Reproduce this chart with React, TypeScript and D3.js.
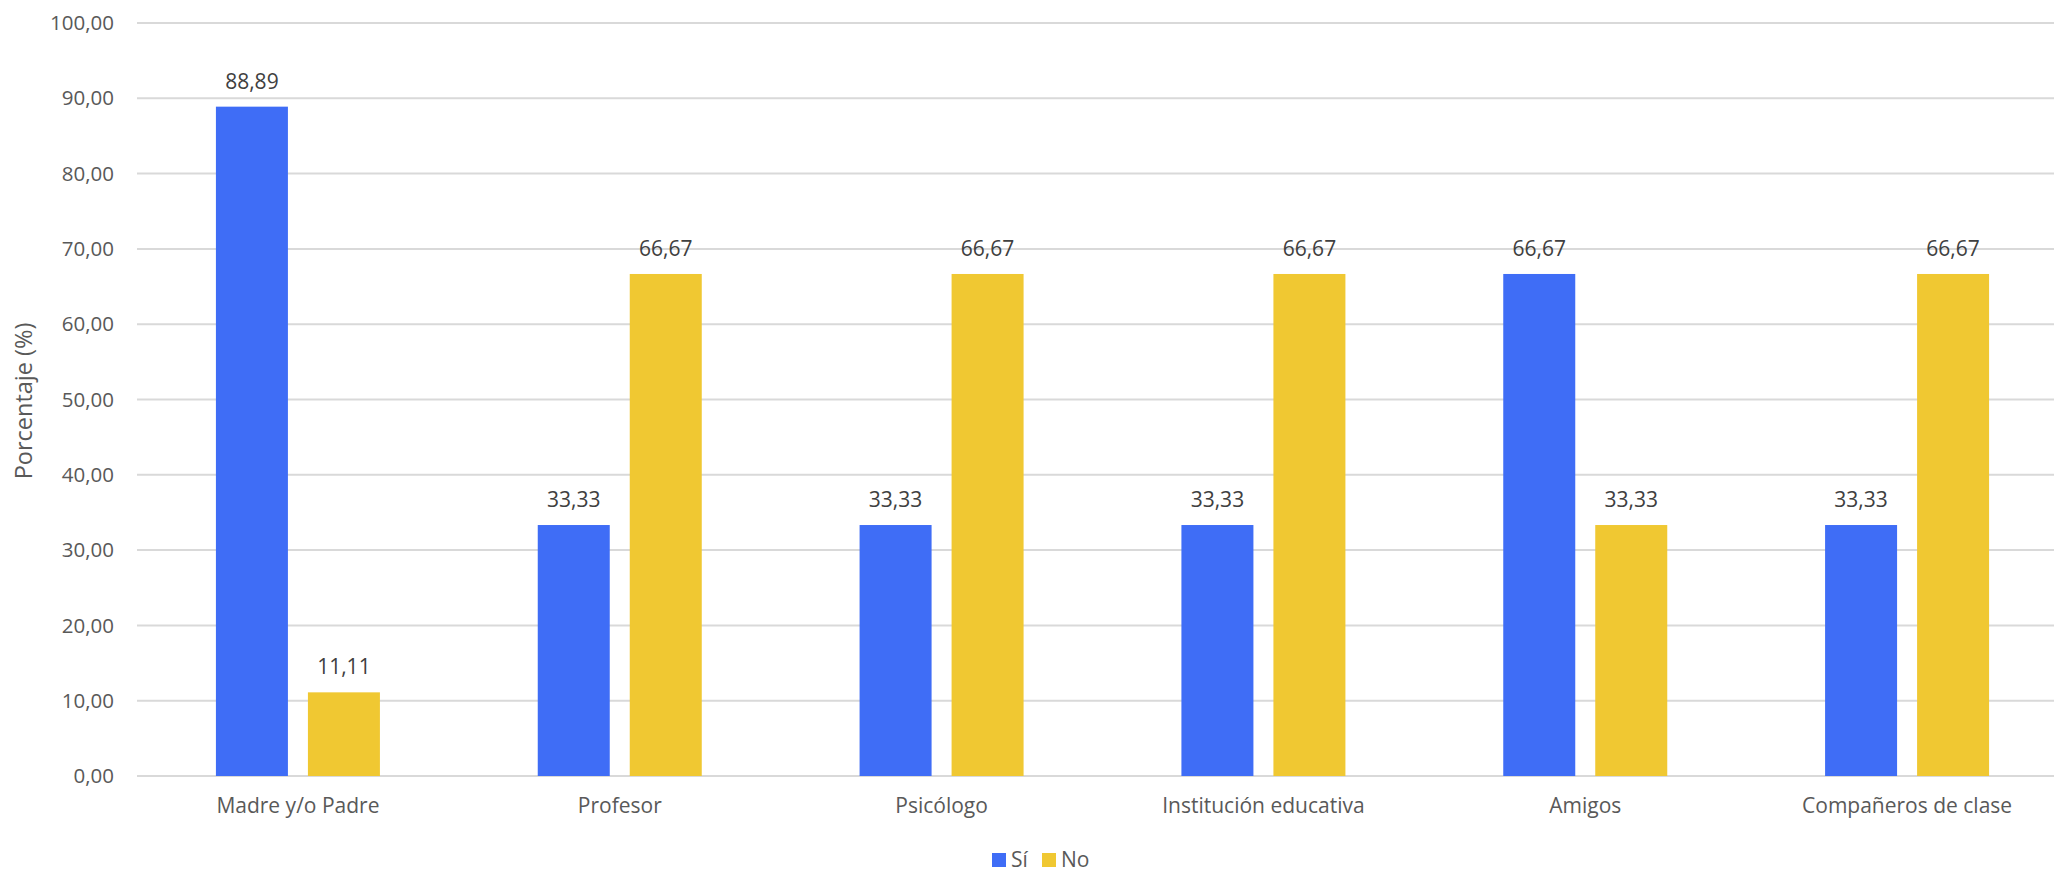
import React from "react";
import * as d3 from "d3";

const categories = ["Madre y/o Padre", "Profesor", "Psicólogo", "Institución educativa", "Amigos", "Compañeros de clase"];
const siValues = [88.89, 33.33, 33.33, 33.33, 66.67, 33.33];
const noValues = [11.11, 66.67, 66.67, 66.67, 33.33, 66.67];
const seriesNames = ["Sí", "No"];
const yTicks = [0, 10, 20, 30, 40, 50, 60, 70, 80, 90, 100];

const W = 2054;
const H = 872;
const FONT = "'Open Sans', 'Noto Sans', sans-serif";
const BLUE = "#3F6DF6";
const YELLOW = "#F0C832";

const fmt = (v: number) => v.toFixed(2).replace(".", ",");

export default function App() {
  const x = d3.scaleBand<string>().domain(categories).range([137, 2068]).paddingInner(0).paddingOuter(0);
  const y = d3.scaleLinear().domain([0, 100]).range([776, 23]);
  const barW = 72;
  const gap = 20;
  const series = [
    { name: seriesNames[0], values: siValues, color: BLUE, offset: -gap / 2 - barW },
    { name: seriesNames[1], values: noValues, color: YELLOW, offset: gap / 2 },
  ];

  return (
    <svg width={W} height={H} style={{ position: "absolute", left: 0, top: 0, background: "#fff" }} fontFamily={FONT}>
      {yTicks.map((t) => (
        <g key={t}>
          <line x1={137} x2={2068} y1={y(t)} y2={y(t)} stroke="#D9D9D9" strokeWidth={2} />
          <text x={114} y={y(t)} dy="0.35em" textAnchor="end" fontSize={20.5} fill="#595959">
            {fmt(t)}
          </text>
        </g>
      ))}
      {series.map((s) =>
        categories.map((c, i) => {
          const cx = (x(c) as number) + x.bandwidth() / 2;
          const bx = cx + s.offset;
          return (
            <g key={s.name + c}>
              <rect x={bx} y={y(s.values[i])} width={barW} height={y(0) - y(s.values[i])} fill={s.color} />
              <text x={bx + barW / 2} y={y(s.values[i]) - 18} textAnchor="middle" fontSize={21} fill="#404040">
                {fmt(s.values[i])}
              </text>
            </g>
          );
        })
      )}
      {categories.map((c) => (
        <text key={c} x={(x(c) as number) + x.bandwidth() / 2} y={813} textAnchor="middle" fontSize={21} fill="#595959">
          {c}
        </text>
      ))}
      <text transform={`translate(32,401) rotate(-90)`} textAnchor="middle" fontSize={23.5} fill="#595959">
        Porcentaje (%)
      </text>
      <g>
        <rect x={992} y={853} width={14} height={14} fill={BLUE} />
        <text x={1011} y={867} fontSize={21} fill="#595959">{seriesNames[0]}</text>
        <rect x={1042} y={853} width={14} height={14} fill={YELLOW} />
        <text x={1061} y={867} fontSize={21} fill="#595959">{seriesNames[1]}</text>
      </g>
    </svg>
  );
}
